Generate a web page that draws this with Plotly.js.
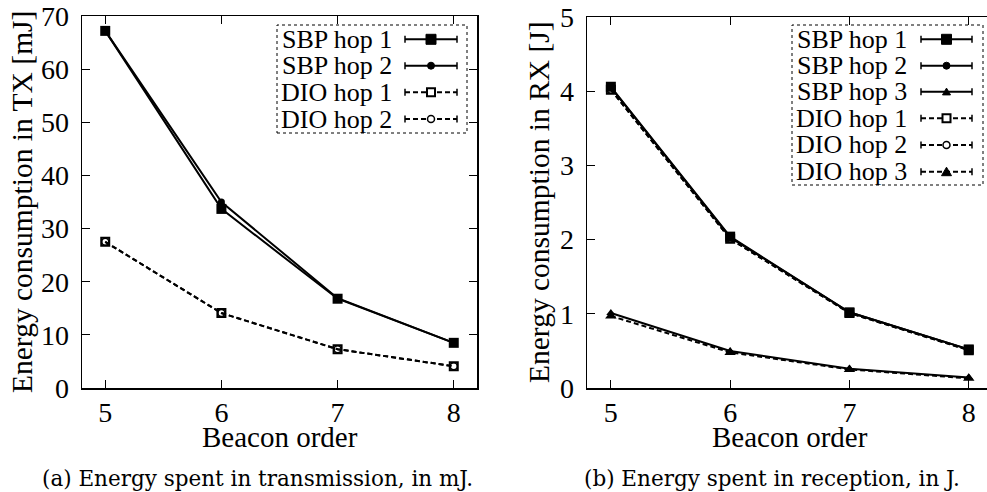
<!DOCTYPE html>
<html>
<head>
<meta charset="utf-8">
<script src="https://cdn.plot.ly/plotly-3.0.1.min.js"></script>
<style>
html,body{margin:0;padding:0;overflow:hidden;background:#fff;}
#chart{width:987px;height:492px;}
</style>
</head>
<body>
<div id="chart"></div>
<script>
// ---- data ----
var beaconOrder = [5, 6, 7, 8];

// (a) TX energy, mJ
var txSbpHop1 = [67.2, 33.7, 16.8, 8.5];
var txSbpHop2 = [67.2, 35.0, 16.9, 8.5];
var txDioHop1 = [27.5, 14.1, 7.3, 4.1];
var txDioHop2 = [27.5, 14.1, 7.3, 4.1];

// (b) RX energy, J
var rxSbpHop1 = [4.06, 2.04, 1.02, 0.52];
var rxSbpHop2 = [4.05, 2.03, 1.02, 0.52];
var rxSbpHop3 = [1.01, 0.50, 0.26, 0.14];
var rxDioHop1 = [4.02, 2.01, 1.01, 0.51];
var rxDioHop2 = [4.02, 2.01, 1.01, 0.51];
var rxDioHop3 = [0.97, 0.48, 0.25, 0.13];

var txNames = ['SBP hop 1', 'SBP hop 2', 'DIO hop 1', 'DIO hop 2'];
var rxNames = ['SBP hop 1', 'SBP hop 2', 'SBP hop 3', 'DIO hop 1', 'DIO hop 2', 'DIO hop 3'];

var xTitle = 'Beacon order';
var yTitleTx = 'Energy consumption in TX [mJ]';
var yTitleRx = 'Energy consumption in RX [J]';
var captionA = '(a) Energy spent in transmission, in mJ.';
var captionB = '(b) Energy spent in reception, in J.';

// ---- styles ----
var W = 987, H = 492;
function P(x){ return x / W; }
function Q(y){ return 1 - y / H; }
var FONT = 'Liberation Serif';
var CAPFONT = 'DejaVu Serif';
var DASH = '5px,3px';

var styles = {
  'SBP hop 1': {dash: 'solid', symbol: 'square', size: 10, lw: 0},
  'SBP hop 2': {dash: 'solid', symbol: 'circle', size: 7, lw: 0},
  'SBP hop 3': {dash: 'solid', symbol: 'triangle-up', size: 8, lw: 0},
  'DIO hop 1': {dash: DASH, symbol: 'square-open', size: 8, lw: 2},
  'DIO hop 2': {dash: DASH, symbol: 'circle-open', size: 7, lw: 1.5},
  'DIO hop 3': {dash: DASH, symbol: 'triangle-up', size: 10, lw: 0}
};

function mk(name, ys, xa, ya) {
  var s = styles[name];
  return {
    x: beaconOrder, y: ys, xaxis: xa, yaxis: ya, name: name,
    type: 'scatter', mode: 'lines+markers', showlegend: false,
    line: {color: '#000', width: 2, dash: s.dash},
    marker: {symbol: s.symbol, size: s.size, color: '#000', line: {color: '#000', width: s.lw}}
  };
}

var traces = [
  mk('DIO hop 2', txDioHop2, 'x', 'y'),
  mk('DIO hop 1', txDioHop1, 'x', 'y'),
  mk('SBP hop 2', txSbpHop2, 'x', 'y'),
  mk('SBP hop 1', txSbpHop1, 'x', 'y'),
  mk('DIO hop 3', rxDioHop3, 'x2', 'y2'),
  mk('DIO hop 2', rxDioHop2, 'x2', 'y2'),
  mk('DIO hop 1', rxDioHop1, 'x2', 'y2'),
  mk('SBP hop 3', rxSbpHop3, 'x2', 'y2'),
  mk('SBP hop 2', rxSbpHop2, 'x2', 'y2'),
  mk('SBP hop 1', rxSbpHop1, 'x2', 'y2')
];

function axisBase() {
  return {
    showline: true, linecolor: '#000', linewidth: 1.5, mirror: 'ticks',
    ticks: 'inside', ticklen: 8, tickwidth: 1, tickcolor: '#000',
    showgrid: false, zeroline: false,
    tickfont: {family: FONT, size: 28, color: '#000'}
  };
}
// right panel: x=5 at px 611, x=8 at px 969 -> 119.3 px per unit, panel runs off the page edge
var xa1 = Object.assign(axisBase(), {domain: [P(82), P(477)], range: [4.8, 8.2], tickvals: beaconOrder, anchor: 'y', ticklabelstandoff: -1});
var ya1 = Object.assign(axisBase(), {domain: [Q(388), Q(16)], range: [0, 70], dtick: 10, tick0: 0, anchor: 'x', ticklabelstandoff: 6});
var xa2 = Object.assign(axisBase(), {domain: [P(587), 1], range: [4.8, 4.8 + 400 / 119.3], tickvals: beaconOrder, anchor: 'y2', ticklabelstandoff: -1});
var ya2 = Object.assign(axisBase(), {domain: [Q(388), Q(17)], range: [0, 5], dtick: 1, tick0: 0, anchor: 'x2', mirror: false, ticklabelstandoff: 6});
var ya3 = {overlaying: 'y2', side: 'right', anchor: 'x2', range: [0, 5], dtick: 1, tick0: 0,
  showline: false, ticks: 'inside', ticklen: 2, tickwidth: 1, tickcolor: '#000', showticklabels: false,
  showgrid: false, zeroline: false};

var annotations = [];
var shapes = [];
function txt(s, x, y, size, opts, fam) {
  var a = {text: s, xref: 'paper', yref: 'paper', x: P(x), y: Q(y), showarrow: false,
    font: {family: fam || FONT, size: size, color: '#000'}, xanchor: 'center', yanchor: 'middle'};
  return Object.assign(a, opts || {});
}
annotations.push(txt(yTitleTx, 22, 202, 29.5, {textangle: -90}));
annotations.push(txt(yTitleRx, 539, 202, 29.5, {textangle: -90}));
annotations.push(txt(xTitle, 280, 437, 29));
annotations.push(txt(xTitle, 790, 437, 29));
annotations.push(txt(captionA, 257, 478, 21.5, null, CAPFONT));
annotations.push(txt(captionB, 772, 478, 21.5, null, CAPFONT));

// ---- hand-built gnuplot-style legends (text then sample) ----
function legend(names, box, textRight, sx0, sx1, rows) {
  shapes.push({type: 'rect', xref: 'paper', yref: 'paper', x0: P(box[0]), x1: P(box[1]), y0: Q(box[3]), y1: Q(box[2]),
    line: {color: '#000', width: 1, dash: 'dot'}, fillcolor: 'rgba(0,0,0,0)'});
  names.forEach(function(n, i) {
    var y = rows[i], s = styles[n];
    annotations.push(txt(n, textRight, y, 26, {xanchor: 'right'}));
    shapes.push({type: 'line', xref: 'paper', yref: 'paper', x0: P(sx0), x1: P(sx1), y0: Q(y), y1: Q(y),
      line: {color: '#000', width: 2, dash: s.dash}});
    [sx0, sx1].forEach(function(cx) {
      shapes.push({type: 'line', xref: 'paper', yref: 'paper', x0: P(cx), x1: P(cx), y0: Q(y - 3.5), y1: Q(y + 3.5),
        line: {color: '#000', width: 1.5}});
    });
    var cx = (sx0 + sx1) / 2, h = s.size / 2;
    var base = {xref: 'paper', yref: 'paper', xsizemode: 'pixel', ysizemode: 'pixel', xanchor: P(cx), yanchor: Q(y)};
    var open = s.symbol.indexOf('open') >= 0;
    var fill = open ? '#fff' : '#000';
    var lw = open ? s.lw : 1;
    if (s.symbol.indexOf('square') === 0) {
      shapes.push(Object.assign({type: 'rect', x0: -h, x1: h, y0: -h, y1: h, fillcolor: fill, line: {color: '#000', width: lw}}, base));
    } else if (s.symbol.indexOf('circle') === 0) {
      shapes.push(Object.assign({type: 'circle', x0: -h, x1: h, y0: -h, y1: h, fillcolor: fill, line: {color: '#000', width: lw}}, base));
    } else {
      shapes.push(Object.assign({type: 'path', path: 'M' + (-h) + ',' + (-h * 0.8) + ' L' + h + ',' + (-h * 0.8) + ' L0,' + (h * 0.9) + ' Z',
        fillcolor: fill, line: {color: '#000', width: lw}}, base));
    }
  });
}
legend(txNames, [277, 467, 25, 133], 394, 405, 457, [39.3, 65.7, 92.3, 119]);
legend(rxNames, [792, 983, 25, 185], 909, 921, 972, [39.3, 65.7, 91.7, 118.3, 145, 171.7]);

var layout = {
  width: W, height: H,
  margin: {l: 0, r: 0, t: 0, b: 0},
  paper_bgcolor: '#fff', plot_bgcolor: '#fff',
  showlegend: false,
  font: {family: FONT, color: '#000'},
  xaxis: xa1, yaxis: ya1, xaxis2: xa2, yaxis2: ya2, yaxis3: ya3,
  annotations: annotations, shapes: shapes
};
Plotly.newPlot('chart', traces, layout, {displayModeBar: false, staticPlot: true});
</script>
</body>
</html>
